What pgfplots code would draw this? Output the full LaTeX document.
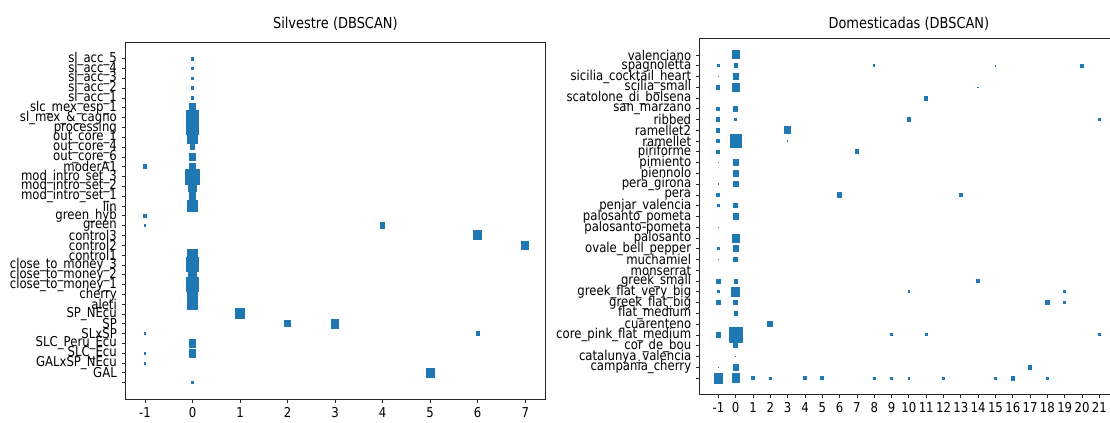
\documentclass[border=0pt]{standalone}
\usepackage{pgfplots}
\pgfplotsset{compat=1.18}
\usepackage{fontspec}
\setmainfont{DejaVu Sans}[FakeStretch=0.86]
\definecolor{mplblue}{HTML}{1F77B4}
\pgfdeclareplotmark{rsq}{%
  \pgfpathrectangle{\pgfqpoint{-0.88\pgfplotmarksize}{-\pgfplotmarksize}}{\pgfqpoint{1.76\pgfplotmarksize}{2\pgfplotmarksize}}%
  \pgfusepath{fill}}
\pgfplotsset{
  mplaxis/.style={
    scale only axis,
    anchor=south west,
    y dir=reverse,
    axis line style={line width=0.6pt, black!85},
    tick align=outside,
    tick pos=left,
    major tick length=2.6pt,
    every tick/.style={black!85, line width=0.6pt},
    tick label style={font=\fontsize{10.2}{11}\selectfont},
    /pgf/number format/assume math mode=true,
    title style={font=\fontsize{11.3}{12}\selectfont, at={(0.5,1)}, anchor=base},
  },
  dots/.style={scatter, only marks, mark=rsq,
    scatter/use mapped color={draw=none, fill=mplblue},
    visualization depends on={0.375*\thisrow{s} \as \msz},
    scatter/@pre marker code/.append style={/tikz/mark size=\msz pt},
  },
}
\pgfplotstableread{
x y s
0 0 4.5
0 1 3.5
0 2 3.5
0 3 3.5
0 4 3.5
0 5 9
0 6 15
0 7 15
0 8 13
0 9 6
0 10 7.7
-1 11 5
0 11 8
0 12 16
0 13 11
0 14 9
0 15 12
-1 16 4.5
-1 17 3
4 17 6.5
6 18 10
7 19 9
0 20 12
0 21 15
0 22 10
0 23 15
0 24 12
0 25 12
1 26 11
2 27 7
3 27 10
-1 28 3
6 28 4.5
0 29 9
-1 30 3
0 30 9
-1 31 3
5 32 10.5
0 33 3
}\silv
\pgfplotstableread{
x y s
0 0 9
-1 1 3
0 1 5
8 1 2.5
15 1 2
20 1 4
-1 2 1.5
0 2 6.5
-1 3 4.5
0 3 9
14 3 1.5
11 4 5
-1 5 4.5
0 5 6
-1 6 4.5
0 6 3
10 6 4.5
21 6 3.5
-1 7 4.5
3 7 8
-1 8 4.5
0 8 14
3 8 1.5
-1 9 4.5
7 9 5
-1 10 1.5
0 10 6.5
0 11 6.5
-1 12 1.5
0 12 6.5
-1 13 4.5
6 13 6
13 13 4
-1 14 3.5
0 14 5.5
0 15 7
-1 16 1.5
0 17 9
-1 18 3
0 18 7
-1 19 1.5
0 19 5.5
-1 21 5
0 21 5
14 21 4
-1 22 3
0 22 10
10 22 3
19 22 3
-1 23 5
0 23 5.5
18 23 5
19 23 3
0 24 5
2 25 6.5
-1 26 5.5
0 26 16
9 26 3
11 26 3
21 26 3
0 27 5.5
0 28 1.5
-1 29 1.5
0 29 7
17 29 5
-1 30 11
0 30 9.5
1 30 4
2 30 3
4 30 4.5
5 30 4.5
8 30 3
9 30 3
10 30 3
12 30 3
15 30 3
16 30 5
18 30 3
}\dome
\begin{document}
\begin{tikzpicture}
\useasboundingbox (0,0) rectangle (832.5pt,317.25pt);
\begin{axis}[mplaxis,
  at={(93.75pt,17.78pt)}, width=315.5pt, height=267.45pt,
  xmin=-1.42, xmax=7.43, ymin=-1.64, ymax=34.69,
  xtick={-1,0,...,7},
  ytick={0,...,33},
  yticklabels={{sl\_acc\_5},{sl\_acc\_4},{sl\_acc\_3},{sl\_acc\_2},{sl\_acc\_1},{slc\_mex\_esp\_1},{sl\_mex\_\&\_cagno},{processing},{out\_core\_1},{out\_core\_4},{out\_core\_6},{moderA1},{mod\_intro\_set\_3},{mod\_intro\_set\_2},{mod\_intro\_set\_1},{lin},{green\_hyb},{green},{control3},{control2},{control1},{close\_to\_money\_3},{close\_to\_money\_2},{close\_to\_money\_1},{cherry},{aleti},{SP\_NEcu},{SP},{SLxSP},{SLC\_Peru\_Ecu},{SLC\_Ecu},{GALxSP\_NEcu},{GAL},{}},
  title={Silvestre (DBSCAN)}, title style={yshift=4.5pt},
]
\addplot[dots] table[x=x,y=y] {\silv};
\end{axis}
\begin{axis}[mplaxis,
  at={(524.5pt,21.6pt)}, width=314.3pt, height=266.55pt,
  xmin=-2.1, xmax=22.1, ymin=-1.5, ymax=31.5,
  xtick={-1,0,...,21},
  ytick={0,...,30},
  yticklabels={{valenciano},{spagnoletta},{sicilia\_cocktail\_heart},{scilia\_small},{scatolone\_di\_bolsena},{san\_marzano},{ribbed},{ramellet2},{ramellet},{piriforme},{pimiento},{piennolo},{pera\_girona},{pera},{penjar\_valencia},{palosanto\_pometa},{palosanto-pometa},{palosanto},{ovale\_bell\_pepper},{muchamiel},{monserrat},{greek\_small},{greek\_flat\_very\_big},{greek\_flat\_big},{flat\_medium},{cuarenteno},{core\_pink\_flat\_medium},{cor\_de\_bou},{catalunya\_valencia},{campania\_cherry},{}},
  title={Domesticadas (DBSCAN)}, title style={yshift=1.6pt},
]
\addplot[dots] table[x=x,y=y] {\dome};
\end{axis}
\end{tikzpicture}
\end{document}
